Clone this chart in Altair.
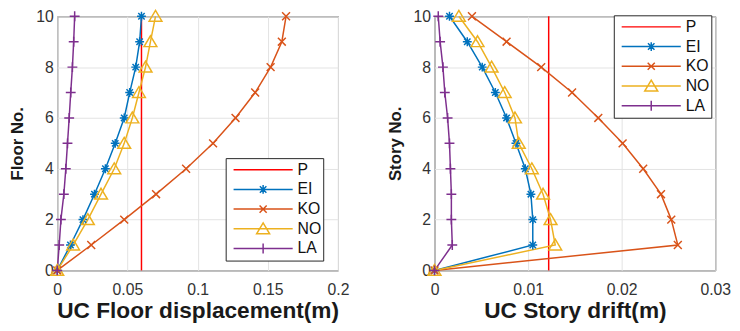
import altair as alt
import pandas as pd

# ---- data ----
floors = list(range(11))
series = ["P", "EI", "KO", "NO", "LA"]

disp_P = 0.060
disp_EI = [0, 0.0094, 0.0183, 0.0265, 0.0343, 0.0413, 0.0477, 0.0516, 0.0559, 0.0587, 0.0600]
disp_KO = [0, 0.0242, 0.0477, 0.0704, 0.0918, 0.111, 0.127, 0.141, 0.152, 0.160, 0.163]
disp_NO = [0, 0.0113, 0.0218, 0.0312, 0.0406, 0.0477, 0.0535, 0.0582, 0.0629, 0.0664, 0.0700]
disp_LA = [0, 0.0014, 0.0026, 0.0047, 0.0061, 0.0073, 0.0085, 0.0096, 0.0108, 0.0117, 0.0124]

drift_P = 0.0122
drift_EI = [0, 0.0105, 0.0105, 0.0103, 0.0097, 0.0087, 0.0077, 0.0065, 0.0051, 0.0035, 0.0016]
drift_KO = [0, 0.0260, 0.0253, 0.0242, 0.0223, 0.0201, 0.0175, 0.0147, 0.0114, 0.0077, 0.0040]
drift_NO = [0, 0.0129, 0.0124, 0.0116, 0.0104, 0.0090, 0.0086, 0.0075, 0.0061, 0.0046, 0.0026]
drift_LA = [0, 0.0019, 0.0018, 0.0018, 0.0017, 0.0016, 0.0014, 0.0011, 0.0009, 0.0006, 0.0004]

disp_ticks = [0, 0.05, 0.1, 0.15, 0.2]
drift_ticks = [0, 0.01, 0.02, 0.03]
floor_ticks = [0, 2, 4, 6, 8, 10]

# ---- styles ----
colors = ["#FF0000", "#0072BD", "#D95319", "#EDB120", "#7E2F8E"]
marker_paths = {
    "EI": "M-0.9,0L0.9,0M0,-0.9L0,0.9M-0.65,-0.65L0.65,0.65M-0.65,0.65L0.65,-0.65",
    "KO": "M-0.8,-0.8L0.8,0.8M-0.8,0.8L0.8,-0.8",
    "NO": "M0,-1.2L1.3,1L-1.3,1Z",
    "LA": "M-1,0L1,0M0,-1L0,1",
}
legend_paths = [
    "M-1,0L1,0",
    "M-1,0L1,0M-0.15,0L0.15,0M0,-0.15L0,0.15M-0.11,-0.11L0.11,0.11M-0.11,0.11L0.11,-0.11",
    "M-1,0L1,0M-0.12,-0.12L0.12,0.12M-0.12,0.12L0.12,-0.12",
    "M-1,0L1,0M0,-0.2L0.22,0.17L-0.22,0.17Z",
    "M-1,0L1,0M0,-0.17L0,0.17",
]
FONT = "Liberation Sans"


def make_df(p, curves):
    rows = [dict(series="P", floor=f, value=p) for f in (0, 10)]
    for name, vals in curves.items():
        for f, v in zip(floors, vals):
            rows.append(dict(series=name, floor=f, value=v))
    return pd.DataFrame(rows)


def panel(df, xmax, xticks, xtitle, ytitle, lx, ly):
    leg = alt.Legend(
        orient="none", legendX=lx, legendY=ly, title=None,
        symbolSize=3600, clipHeight=19.5, rowPadding=0, padding=2,
        symbolOffset=5, labelOffset=4, strokeColor="#262626", fillColor="white",
        symbolOpacity=1, symbolStrokeWidth=1.5, labelFont=FONT, labelFontSize=16,
        labelColor="#111111",
    )
    x = alt.X("value:Q", scale=alt.Scale(domain=[0, xmax], nice=False, zero=False),
              axis=alt.Axis(values=xticks, format="~g", title=xtitle, labelPadding=11,
                            labelFlush=False, titleFontSize=23, titlePadding=3))
    y = alt.Y("floor:Q", scale=alt.Scale(domain=[0, 10], nice=False),
              axis=alt.Axis(values=floor_ticks, title=ytitle, labelPadding=4,
                            labelFlush=False, titleFontSize=17, titlePadding=9))
    color = alt.Color("series:N", scale=alt.Scale(domain=series, range=colors), legend=leg)
    lines = alt.Chart(df).mark_line(strokeWidth=1.5).encode(
        x=x, y=y, color=color, order="floor:Q")
    pts = [
        alt.Chart(df).transform_filter(alt.datum.series == s).mark_point(
            shape=marker_paths[s], filled=False, size=100, strokeWidth=1.5, opacity=1
        ).encode(x=x, y=y, color=color)
        for s in series[1:]
    ]
    legend_layer = alt.Chart(df).mark_point(filled=False, opacity=0).encode(
        x=x, y=y, color=color,
        shape=alt.Shape("series:N", scale=alt.Scale(domain=series, range=legend_paths), legend=leg),
    )
    return alt.layer(lines, *pts, legend_layer).properties(width=285, height=258)


df_disp = make_df(disp_P, {"EI": disp_EI, "KO": disp_KO, "NO": disp_NO, "LA": disp_LA})
df_drift = make_df(drift_P, {"EI": drift_EI, "KO": drift_KO, "NO": drift_NO, "LA": drift_LA})

left = panel(df_disp, 0.2, disp_ticks, "UC Floor displacement(m)", "Floor No.", 171, 144)
right = panel(df_drift, 0.03, drift_ticks, "UC Story drift(m)", "Story No.", 182, -1)

chart = alt.hconcat(left, right, spacing=36).resolve_scale(
    color="independent", shape="independent"
).properties(
    padding={"left": 0, "top": -4, "right": 0, "bottom": 0}
).configure(font=FONT).configure_view(
    stroke="#262626", strokeWidth=1
).configure_axis(
    domain=False, ticks=False, grid=True, gridColor="#e3e3e3", gridWidth=1,
    labelFont=FONT, labelFontSize=16, labelColor="#333333",
    titleFont=FONT, titleFontWeight="bold", titleColor="#1a1a1a",
)

chart.save("out.html", embed_options={"renderer": "svg", "actions": False})
